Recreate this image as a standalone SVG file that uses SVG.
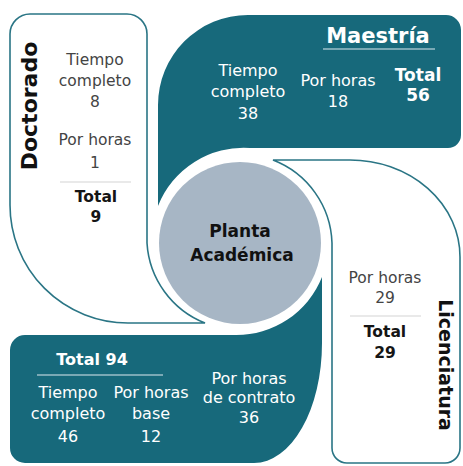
<svg xmlns="http://www.w3.org/2000/svg" width="463" height="466" viewBox="0 0 463 466">
<style>
.teal{fill:#17697b}
.out{fill:#fff;stroke:#2a7585;stroke-width:1.6}
text{font-family:"DejaVu Sans","Liberation Sans",sans-serif;text-anchor:middle}
.r{font-size:15.5px;fill:#444}
.rw{font-size:16px;fill:#fff}
.b{font-size:15.5px;font-weight:bold;fill:#151515}
.bw{font-size:17px;font-weight:bold;fill:#fff}
.sep{stroke:#d4d4d4;stroke-width:1.2}
.ul{stroke:#9dbfc8;stroke-width:1.5}
</style>
<rect width="463" height="466" fill="#fff"/>
<g id="doctorado">
<path class="out" d="M10,34 A20 20 0 0 1 30,14 H127 A20 20 0 0 1 147,34 V243 A92 92 0 0 0 205,323 H128 A118 118 0 0 1 10,205 Z"/>
<text transform="translate(37,106) rotate(-90)" style="font-size:22px;font-weight:bold;fill:#111">Doctorado</text>
<text class="r" x="95" y="65">Tiempo</text>
<text class="r" x="95" y="86">completo</text>
<text class="r" x="95" y="107">8</text>
<text class="r" x="95" y="145">Por horas</text>
<text class="r" x="95" y="168">1</text>
<line class="sep" x1="60" y1="182" x2="131" y2="182"/>
<text class="b" x="96" y="202">Total</text>
<text class="b" x="96" y="222">9</text>
</g>
<g id="maestria">
<path class="teal" d="M158,206 V105 A90 90 0 0 1 248,15 H446 A15 15 0 0 1 461,30 V135 A13 13 0 0 1 448,148 H250 A92 92 0 0 0 158,206 Z"/>
<text x="378" y="43" style="font-size:21px;font-weight:bold;fill:#fff">Maestría</text>
<line class="ul" x1="323" y1="49" x2="435" y2="49"/>
<text class="rw" x="248" y="76">Tiempo</text>
<text class="rw" x="248" y="97">completo</text>
<text class="rw" x="248" y="119">38</text>
<text class="rw" x="338" y="86">Por horas</text>
<text class="rw" x="338" y="107">18</text>
<text class="bw" x="418" y="81">Total</text>
<text class="bw" x="418" y="101">56</text>
</g>
<g id="licenciatura">
<path class="out" d="M273,160 H350 A110 97 0 0 1 460,257 V448 A15 15 0 0 1 445,463 H347 A15 15 0 0 1 332,448 V243 A92 92 0 0 0 273,160 Z"/>
<text transform="translate(439,365) rotate(90)" style="font-size:19px;font-weight:bold;fill:#111">Licenciatura</text>
<text class="r" x="385" y="283">Por horas</text>
<text class="r" x="385" y="303">29</text>
<line class="sep" x1="350" y1="316" x2="421" y2="316"/>
<text class="b" x="385" y="337">Total</text>
<text class="b" x="385" y="358">29</text>
</g>
<g id="licenciatura-total">
<path class="teal" d="M10,350 A15 15 0 0 1 25,335 H235 A92 92 0 0 0 322,277 V343 A68 120 0 0 1 254,463 H25 A15 15 0 0 1 10,448 Z"/>
<text class="bw" x="92" y="365" style="font-size:16px">Total 94</text>
<line class="ul" x1="37" y1="375" x2="163" y2="375"/>
<text class="rw" x="68" y="398">Tiempo</text>
<text class="rw" x="68" y="419">completo</text>
<text class="rw" x="68" y="442">46</text>
<text class="rw" x="151" y="398">Por horas</text>
<text class="rw" x="151" y="419">base</text>
<text class="rw" x="151" y="442">12</text>
<text class="rw" x="249" y="384">Por horas</text>
<text class="rw" x="249" y="403">de contrato</text>
<text class="rw" x="249" y="423">36</text>
</g>
<g id="planta">
<circle cx="240" cy="243" r="81" fill="#a7b6c5"/>
<text x="240" y="237" style="font-size:17px;font-weight:bold;fill:#111">Planta</text>
<text x="242" y="261" style="font-size:17px;font-weight:bold;fill:#111">Académica</text>
</g>
<g id="connectors"></g>
</svg>
